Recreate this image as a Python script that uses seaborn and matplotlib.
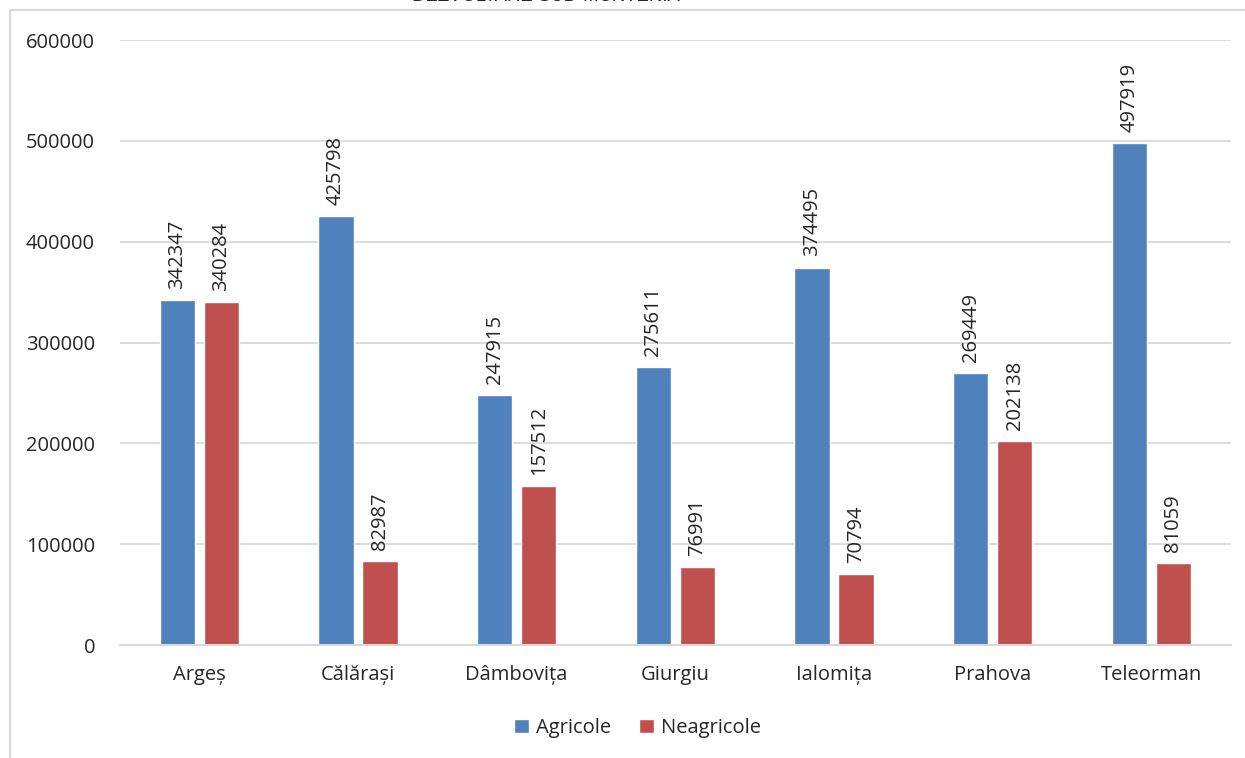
import matplotlib
matplotlib.use("Agg")
import matplotlib.pyplot as plt
import matplotlib.patches as mpatches
import pandas as pd
import seaborn as sns

# data
judete = ["Argeș", "Călărași", "Dâmbovița", "Giurgiu", "Ialomița", "Prahova", "Teleorman"]
agricole = [342347, 425798, 247915, 275611, 374495, 269449, 497919]
neagricole = [340284, 82987, 157512, 76991, 70794, 202138, 81059]
serii = ["Agricole", "Neagricole"]
culori = ["#4F81BD", "#C0504D"]
y_ticks = [0, 100000, 200000, 300000, 400000, 500000, 600000]

sns.set_style("white")
plt.rcParams["font.family"] = ["Open Sans", "DejaVu Sans"]

df = pd.DataFrame({
    "judet": judete * 2,
    "serie": [serii[0]] * len(judete) + [serii[1]] * len(judete),
    "valoare": agricole + neagricole,
})

fig = plt.figure(figsize=(12.45, 7.58), dpi=100)
ax = fig.add_axes([0.0964, 0.149, 0.892, 0.798])

sns.barplot(data=df, x="judet", y="valoare", hue="serie", palette=culori,
            width=0.556, gap=0.2, ax=ax, legend=True, saturation=1)

for cont in ax.containers:
    ax.bar_label(cont, labels=[f"{int(v)}" for v in cont.datavalues],
                 rotation=90, padding=8, fontsize=14.5)

ax.set_ylim(0, 600000)
ax.set_xlim(-0.5, len(judete) - 0.5)
ax.set_yticks(y_ticks)
ax.set_yticklabels([str(t) for t in y_ticks])
ax.yaxis.grid(True, color="#D9D9D9", linewidth=1.3)
ax.set_axisbelow(True)
for s in ["top", "right", "left"]:
    ax.spines[s].set_visible(False)
ax.spines["bottom"].set_color("#D9D9D9")
ax.spines["bottom"].set_linewidth(1.5)
ax.tick_params(axis="both", length=0, labelsize=14.5)
ax.tick_params(axis="y", pad=18)
ax.tick_params(axis="x", pad=14)
ax.set_xlabel("")
ax.set_ylabel("")

ax.legend(loc="center", bbox_to_anchor=(0.512, 1 - 728 / 758),
          bbox_transform=fig.transFigure, ncol=2, frameon=False,
          fontsize=14.5, handlelength=0.75, handleheight=0.75,
          handletextpad=0.35, columnspacing=1.4)

# chart frame (cut off at the right and bottom like the reference)
fig.patches.append(mpatches.Rectangle((10 / 1245, -0.1), 1.2, 1 - 10 / 758 + 0.1,
                                      transform=fig.transFigure, fill=False,
                                      edgecolor="#D9D9D9", linewidth=1.5))

# title, mostly above the visible area (cropped like the reference)
fig.text(0.439, 1.004, "DEZVOLTARE SUD-MUNTENIA", ha="center", va="center",
         fontsize=13.3, style="italic", family=["Liberation Sans", "DejaVu Sans"])

fig.savefig("out.png", dpi=100)
